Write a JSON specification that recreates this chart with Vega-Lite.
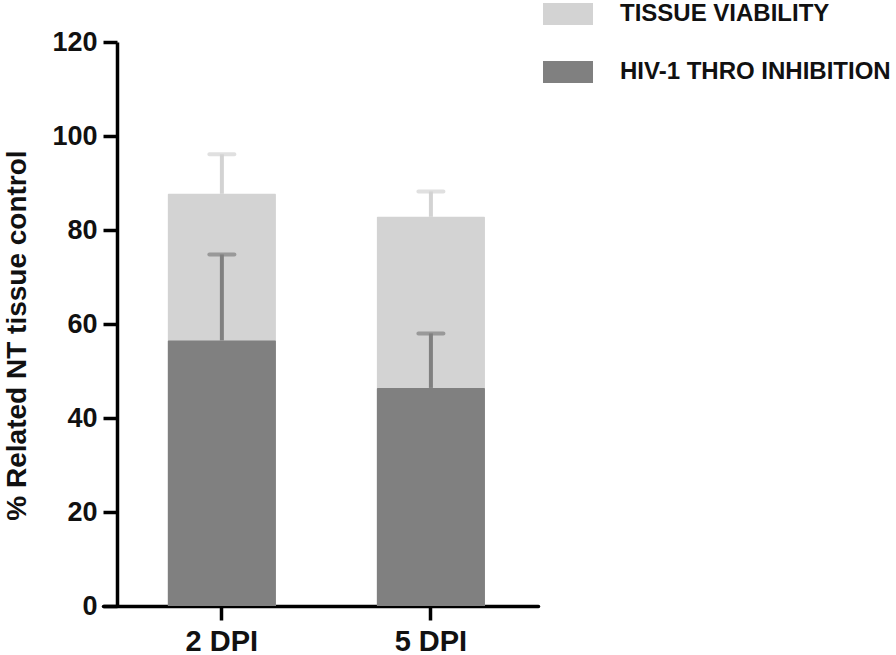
{
  "$schema": "https://vega.github.io/schema/vega-lite/v6.json",
  "autosize": "none",
  "width": 435,
  "height": 564,
  "padding": {"left": 103, "top": 42, "right": 358, "bottom": 49},
  "background": "white",
  "config": {
    "view": {"stroke": null},
    "font": "Liberation Sans"
  },
  "data": {
    "values": [
      {"dpi": "2 DPI", "measure": "TISSUE VIABILITY", "mean": 87.7, "upper": 96.1},
      {"dpi": "5 DPI", "measure": "TISSUE VIABILITY", "mean": 82.8, "upper": 88.2},
      {"dpi": "2 DPI", "measure": "HIV-1 THRO INHIBITION", "mean": 56.5, "upper": 74.8},
      {"dpi": "5 DPI", "measure": "HIV-1 THRO INHIBITION", "mean": 46.4, "upper": 58.0}
    ]
  },
  "encoding": {
    "x": {
      "field": "dpi", "type": "nominal", "sort": ["2 DPI", "5 DPI"],
      "scale": {"paddingInner": 0.483, "paddingOuter": 0.282, "align": 0.55},
      "axis": {
        "title": null, "labelAngle": 0, "labelFont": "Liberation Sans", "labelFontWeight": "bold",
        "labelFontSize": 29, "labelColor": "#111", "domainColor": "#000", "domainWidth": 3.5,
        "tickColor": "#000", "tickWidth": 3.5, "tickSize": 14, "labelPadding": 7, "domainCap": "round"
      }
    }
  },
  "layer": [
    {
      "mark": {"type": "bar", "cornerRadius": 1},
      "encoding": {
        "y": {
          "field": "mean", "type": "quantitative", "stack": null,
          "scale": {"domain": [0, 120]},
          "axis": {
            "values": [0, 20, 40, 60, 80, 100, 120], "grid": false, "offset": -14,
            "title": "% Related NT tissue control", "titleFont": "Liberation Sans", "titleFontWeight": "bold",
            "titleFontSize": 28, "titleColor": "#111", "titleAngle": -90, "titleBaseline": "middle",
            "titleAlign": "center", "titleX": -100, "titleY": 293,
            "labelFont": "Liberation Sans", "labelFontWeight": "bold", "labelFontSize": 27, "labelColor": "#111",
            "domainColor": "#000", "domainWidth": 3.5, "tickColor": "#000", "tickWidth": 3.5,
            "tickSize": 14, "labelPadding": 6
          }
        },
        "color": {
          "field": "measure", "type": "nominal",
          "scale": {"domain": ["TISSUE VIABILITY", "HIV-1 THRO INHIBITION"], "range": ["#d3d3d3", "#808080"]},
          "legend": {
            "title": null, "orient": "none", "legendX": 440, "legendY": -53,
            "symbolType": "M-1,-0.44H1V0.44H-1Z", "symbolSize": 2500, "symbolStrokeWidth": 0,
            "labelFont": "Liberation Sans", "labelFontWeight": "bold", "labelFontSize": 24, "labelColor": "#111",
            "labelOffset": 27, "rowPadding": 21, "labelLimit": 400
          }
        }
      }
    },
    {
      "mark": {"type": "rule", "strokeWidth": 4},
      "encoding": {
        "y": {"field": "mean", "type": "quantitative"},
        "y2": {"field": "upper"},
        "color": {"field": "measure", "type": "nominal", "legend": null}
      }
    },
    {
      "mark": {"type": "tick", "orient": "horizontal", "size": 29, "thickness": 4, "cornerRadius": 2},
      "encoding": {
        "y": {"field": "upper", "type": "quantitative"},
        "color": {"field": "measure", "type": "nominal", "legend": null}
      }
    }
  ]
}
